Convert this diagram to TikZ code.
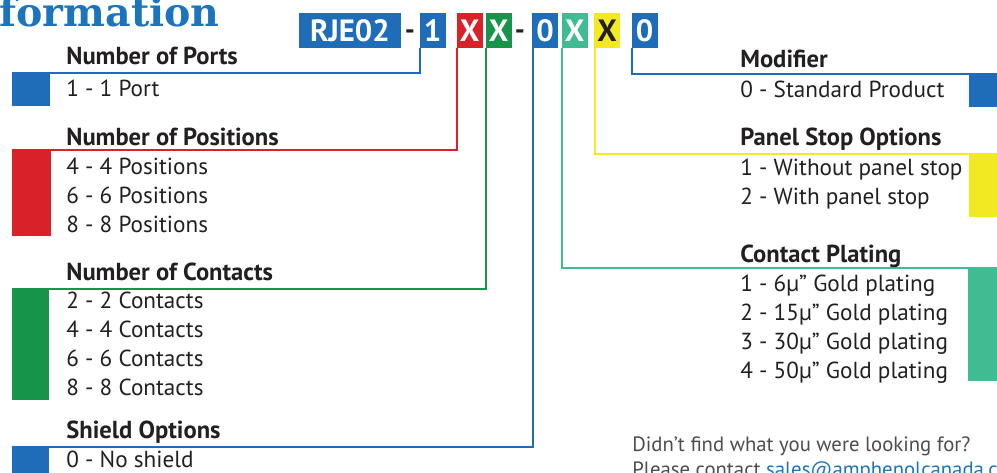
\documentclass[tikz,border=0pt]{standalone}
\usepackage{fontspec}
\setmainfont{PT Sans}
\newfontfamily\titlefont{DejaVu Serif}
\definecolor{RjeBlue}{HTML}{1F6DB8}
\definecolor{RjeTitle}{HTML}{1C75BC}
\definecolor{RjeRed}{HTML}{D82128}
\definecolor{RjeGreen}{HTML}{16944A}
\definecolor{RjeTeal}{HTML}{3FBC92}
\definecolor{RjeYellow}{HTML}{F3E923}
\definecolor{RjeText}{HTML}{231F20}
\definecolor{RjeGrey}{HTML}{4D4D4F}

\begin{document}
\begin{tikzpicture}[x=0.02cm, y=-0.02cm,
    code/.style={fill=RjeBlue, text=white, font=\fontsize{17.5}{17.5}\selectfont\bfseries,
        minimum height=0.7cm, minimum width=0.52cm, inner sep=0pt},
    sepmark/.style={anchor=base, text=RjeText, font=\fontsize{16}{16}\selectfont\bfseries, inner sep=0pt},
    head/.style={anchor=base west, text=RjeText, font=\fontsize{14}{14}\selectfont\bfseries, inner sep=0pt},
    item/.style={anchor=base west, text=RjeText, font=\fontsize{13.2}{13.2}\selectfont, inner sep=0pt},
    note/.style={anchor=base west, text=RjeGrey, font=\fontsize{11.8}{11.8}\selectfont, inner sep=0pt},
    wire/.style={line width=1.3pt}]
    \useasboundingbox (0,0) rectangle (997,473);

    % Title (cut at the left edge)
    \node[anchor=base east, inner sep=0pt, text=RjeTitle, font=\titlefont\fontsize{22.5}{22.5}\selectfont\bfseries]
        (title) at (220,27) {Information};

    % Part number boxes
    \node[code, minimum width=2.04cm] (cRje) at (350,30.5) {RJE02};
    \node[sepmark] (sepA) at (410,40) {-};
    \node[code] (cPorts) at (432.5,30.5) {1};
    \node[code, fill=RjeRed] (cPos) at (469.5,30.5) {X};
    \node[code, fill=RjeGreen] (cCon) at (498.5,30.5) {X};
    \node[sepmark] (sepB) at (520,40) {-};
    \node[code] (cShield) at (545,30.5) {0};
    \node[code, fill=RjeTeal] (cPlate) at (574.5,30.5) {X};
    \node[code, fill=RjeYellow, text=RjeText] (cStop) at (607,30.5) {X};
    \node[code] (cMod) at (644.5,30.5) {0};

    % Free ends of the leader lines
    \coordinate (portEnd) at (12,73);
    \coordinate (posEnd) at (12,150);
    \coordinate (conEnd) at (12,289);
    \coordinate (shieldEnd) at (12,447);
    \coordinate (modEnd) at (1000,74);
    \coordinate (stopEnd) at (1000,154);
    \coordinate (plateEnd) at (1000,268);

    % Leader lines
    \draw[wire, RjeBlue] ([xshift=0.6pt]cPorts.south west) |- (portEnd);
    \draw[wire, RjeRed] ([xshift=0.6pt]cPos.south west) |- (posEnd);
    \draw[wire, RjeGreen] ([xshift=0.6pt]cCon.south west) |- (conEnd);
    \draw[wire, RjeBlue] ([xshift=0.6pt]cShield.south west) |- (shieldEnd);
    \draw[wire, RjeTeal] ([xshift=0.6pt]cPlate.south west) |- (plateEnd);
    \draw[wire, RjeYellow] ([xshift=0.6pt]cStop.south west) |- (stopEnd);
    \draw[wire, RjeBlue] ([xshift=0.6pt]cMod.south west) |- (modEnd);

    % Colour tabs
    \fill[RjeBlue] (12,73) rectangle (50,106);
    \fill[RjeRed] (12,150) rectangle (51,236);
    \fill[RjeGreen] (12,289) rectangle (49,400);
    \fill[RjeBlue] (12,447) rectangle (49,480);
    \fill[RjeBlue] (969,74) rectangle (1000,107);
    \fill[RjeYellow] (969,154) rectangle (1000,217);
    \fill[RjeTeal] (968,268) rectangle (1000,381);

    % Left column
    \node[head] (hPorts) at (66,65) {Number of Ports};
    \node[item] (iPort1) at (66,96.5) {1 - 1 Port};
    \node[head] (hPos) at (66,145) {Number of Positions};
    \node[item] (iPos4) at (66,174) {4 - 4 Positions};
    \node[item] (iPos6) at (66,203) {6 - 6 Positions};
    \node[item] (iPos8) at (66,232) {8 - 8 Positions};
    \node[head] (hCon) at (66,280) {Number of Contacts};
    \node[item] (iCon2) at (66,308) {2 - 2 Contacts};
    \node[item] (iCon4) at (66,337) {4 - 4 Contacts};
    \node[item] (iCon6) at (66,366) {6 - 6 Contacts};
    \node[item] (iCon8) at (66,395) {8 - 8 Contacts};
    \node[head] (hShield) at (66,438) {Shield Options};
    \node[item] (iShield0) at (66,467) {0 - No shield};

    % Right column
    \node[head] (hMod) at (740,68) {Modifier};
    \node[item] (iMod0) at (740,97) {0 - Standard Product};
    \node[head] (hStop) at (740,146) {Panel Stop Options};
    \node[item] (iStop1) at (740,175) {1 - Without panel stop};
    \node[item] (iStop2) at (740,204) {2 - With panel stop};
    \node[head] (hPlate) at (740,262) {Contact Plating};
    \node[item] (iPlate1) at (740,291) {1 - 6µ” Gold plating};
    \node[item] (iPlate2) at (740,320) {2 - 15µ” Gold plating};
    \node[item] (iPlate3) at (740,349) {3 - 30µ” Gold plating};
    \node[item] (iPlate4) at (740,378) {4 - 50µ” Gold plating};

    % Contact note
    \node[note] (noteA) at (632,451.5) {Didn’t find what you were looking for?};
    \node[note] (noteB) at (632,476) {Please contact \textcolor{RjeTitle}{sales@amphenolcanada.com}};
\end{tikzpicture}
\end{document}
